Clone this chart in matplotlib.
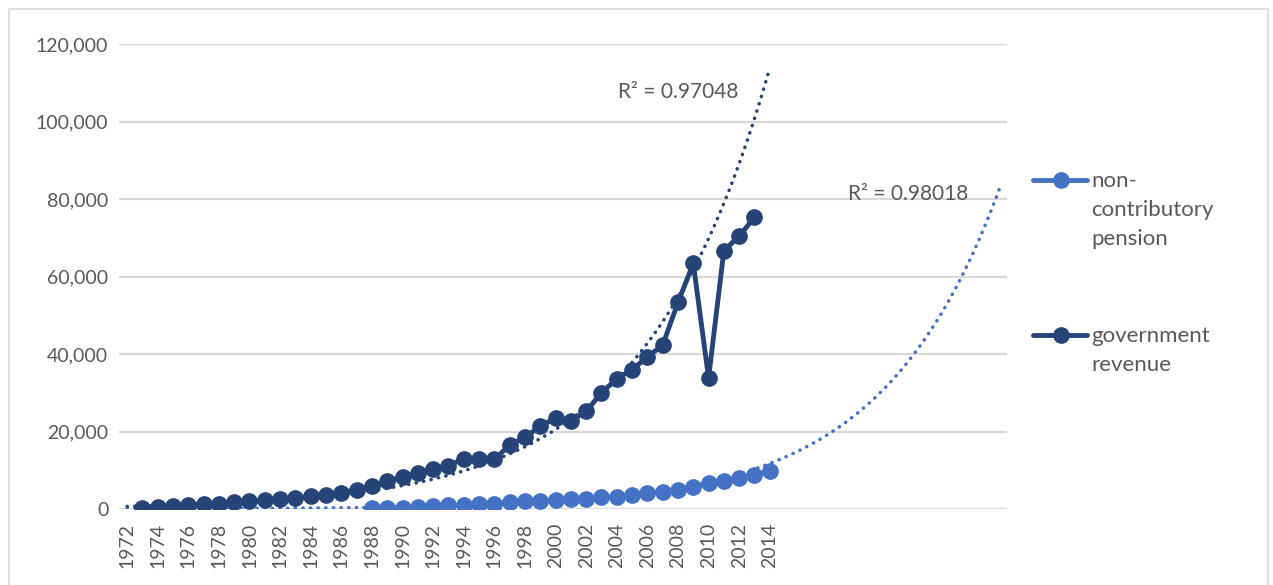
import numpy as np
import matplotlib.pyplot as plt
from matplotlib.lines import Line2D
from matplotlib.patches import Rectangle
from matplotlib.ticker import FuncFormatter

plt.rcParams['font.family'] = ['Lato', 'DejaVu Sans']

# government revenue, 1973-2013
gov_years = np.arange(1973, 2014)
gov_revenue = [300, 400, 700, 1000, 1200, 1400, 1700, 2000, 2200, 2500,
               2900, 3300, 3700, 4200, 5000, 6000, 7200, 8200, 9400, 10400,
               11200, 13000, 13000, 12800, 16500, 18500, 21300, 23500, 22700, 25200,
               30000, 33600, 36000, 39200, 42300, 53300, 63400, 33800, 66700, 70400,
               75300]

# non-contributory pension, 1988-2014
pen_years = np.arange(1988, 2015)
pension = [250, 300, 350, 500, 700, 1000, 1030, 1290, 1290, 1800,
           2000, 2150, 2300, 2580, 2660, 3000, 3200, 3530, 4210, 4470,
           4900, 5760, 6700, 7230, 8080, 8850, 9720]

tick_years = np.arange(1972, 2015, 2)

dark = '#264478'
light = '#4472C4'
grey = '#595959'

W, H = 1273, 585
fig = plt.figure(figsize=(W / 100, H / 100), dpi=100)
ax = fig.add_axes([119.4 / W, (H - 509) / H, (1007 - 119.4) / W, (509 - 44) / H])

# exponential trendlines, fitted like Excel does (ln y linear in x)
c_gov = np.polyfit(gov_years, np.log(gov_revenue), 1)
x_gov = np.linspace(1972, 2014, 200)
ax.plot(x_gov, np.exp(c_gov[1]) * np.exp(c_gov[0] * x_gov), color=dark, lw=2.5,
        linestyle=(0, (0.1, 2.1)), dash_capstyle='round', zorder=3)

c_pen = np.polyfit(pen_years, np.log(pension), 1)
x_pen = np.linspace(1972, 2029, 300)
ax.plot(x_pen, np.exp(c_pen[1]) * np.exp(c_pen[0] * x_pen), color=light, lw=2.5,
        linestyle=(0, (0.1, 2.1)), dash_capstyle='round', zorder=2)

ax.plot(pen_years, pension, color=light, lw=3.5, marker='o', ms=11, zorder=4)
ax.plot(gov_years, gov_revenue, color=dark, lw=3.5, marker='o', ms=11, zorder=5)

ax.set_xlim(1971.5, 2029.5)
ax.set_ylim(0, 120000)
ax.set_yticks(np.arange(0, 120001, 20000))
ax.yaxis.set_major_formatter(FuncFormatter(lambda v, p: f'{v:,.0f}'))
ax.set_xticks(tick_years)
ax.set_xticklabels([str(y) for y in tick_years], rotation=90)
ax.tick_params(axis='both', length=0, labelsize=14, labelcolor=grey)
ax.tick_params(axis='y', pad=8)
ax.tick_params(axis='x', pad=10)
ax.grid(axis='y', color='#D9D9D9', lw=1.6)
ax.set_axisbelow(True)
for s in ax.spines.values():
    s.set_visible(False)

fig.text(618 / W, 1 - 92 / H, 'R² = 0.97048', fontsize=15, color=grey, va='center', ha='left')
fig.text(848 / W, 1 - 194 / H, 'R² = 0.98018', fontsize=15, color=grey, va='center', ha='left')

# legend, drawn by hand to match the wrapped layout
for yy, col, lines in [(180, light, ['non-', 'contributory', 'pension']),
                       (335, dark, ['government', 'revenue'])]:
    fig.add_artist(Line2D([1033 / W, 1087 / W], [1 - yy / H, 1 - yy / H], color=col, lw=3.5,
                          solid_capstyle='round', transform=fig.transFigure))
    fig.add_artist(Line2D([1061 / W], [1 - yy / H], color=col, marker='o', ms=11,
                          transform=fig.transFigure))
    for i, t in enumerate(lines):
        fig.text(1091 / W, 1 - (yy + 1 + 29 * i) / H, t, fontsize=16, color=grey,
                 va='center', ha='left')

fig.add_artist(Rectangle((9 / W, -0.01), (1268 - 9) / W, 1 - 9 / H + 0.01, fill=False,
                         edgecolor='#D9D9D9', lw=1.2, transform=fig.transFigure))

fig.savefig('out.png', dpi=100)
